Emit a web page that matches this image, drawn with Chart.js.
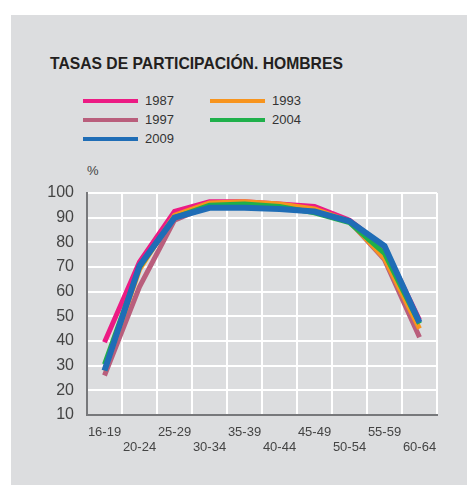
<!DOCTYPE html>
<html lang="es">
<head>
<meta charset="UTF-8">
<title>Tasas de participación. Hombres</title>
<style>
  body { margin: 0; background: #fff; font-family: "Liberation Sans", Arial, sans-serif; }
  .panel { position: absolute; left: 11px; top: 15px; width: 456px; height: 470px; background: #dcdddf; }
  .title { position: absolute; left: 50px; top: 55px; font-size: 15.7px; font-weight: bold; color: #231f20; white-space: nowrap; }
  .legend { position: absolute; font-size: 13px; color: #333; white-space: nowrap; }
  .legend span.sw { position: absolute; left: 0; top: 50%; width: 55px; height: 4px; margin-top: -2px; }
  .legend span.lb { position: absolute; left: 62px; top: -8px; }
  .unit { position: absolute; left: 87px; top: 163px; font-size: 13px; color: #444; }
  #chart { position: absolute; left: 0; top: 0; }
</style>
<script src="https://cdn.jsdelivr.net/npm/chart.js@4.4.6/dist/chart.umd.min.js"></script>
</head>
<body>
<div class="panel"></div>
<div class="title">TASAS DE PARTICIPACIÓN. HOMBRES</div>
<div id="legend"></div>
<div class="unit">%</div>
<canvas id="chart" width="467" height="485"></canvas>
<script>
// grupos de edad
var categories = ['16-19', '20-24', '25-29', '30-34', '35-39', '40-44', '45-49', '50-54', '55-59', '60-64'];
var years = ['1987', '1993', '1997', '2004', '2009'];
var colors = ['#ec1b84', '#f7941e', '#b95e7c', '#1fb04b', '#1f6db6'];

var v1987 = [39.5, 72, 92.5, 96.5, 96.5, 95.5, 94.5, 89, 78, 48.5];
var v1993 = [28, 69, 91, 96, 96.5, 95.5, 93.5, 88.5, 73.5, 45];
var v1997 = [26, 62, 89, 95, 96, 95, 93, 88.5, 73, 41.5];
var v2004 = [30.5, 70, 90, 95, 95.5, 94.5, 92, 88, 75.5, 47];
var v2009 = [28, 70.5, 90, 94, 94, 93.5, 92.5, 88.5, 78.5, 47.5];
var series = [v1987, v1993, v1997, v2004, v2009];

var yTicks = [10, 20, 30, 40, 50, 60, 70, 80, 90, 100];

// leyenda en dos columnas, como en el original
var legendPos = [[83, 101], [210, 101], [83, 120], [210, 120], [83, 139]];
var lg = document.getElementById('legend');
years.forEach(function (y, i) {
  var d = document.createElement('div');
  d.className = 'legend';
  d.style.left = legendPos[i][0] + 'px';
  d.style.top = legendPos[i][1] + 'px';
  d.innerHTML = '<span class="sw" style="background:' + colors[i] + '"></span><span class="lb">' + y + '</span>';
  lg.appendChild(d);
});

// el último año se dibuja encima
var drawOrder = [4, 2, 3, 1, 0];

var datasets = years.map(function (y, i) {
  return {
    label: y,
    data: series[i],
    order: drawOrder[i],
    borderColor: colors[i],
    backgroundColor: colors[i],
    borderWidth: i === 4 ? 6 : 5,
    pointRadius: 0,
    tension: 0,
    fill: false
  };
});

new Chart(document.getElementById('chart'), {
  type: 'line',
  data: { labels: categories, datasets: datasets },
  options: {
    responsive: false,
    animation: false,
    layout: { padding: { left: 0, top: 193, right: 30, bottom: 0 } },
    plugins: { legend: { display: false }, tooltip: { enabled: false } },
    scales: {
      x: {
        offset: true,
        grid: { offset: true, color: '#ffffff', lineWidth: 2, drawTicks: false },
        border: { color: '#77787b', width: 2 },
        ticks: {
          autoSkip: false,
          maxRotation: 0,
          padding: 10,
          color: '#444',
          font: { family: '"Liberation Sans", Arial, sans-serif', size: 13, lineHeight: 1.15 },
          callback: function (value, index) {
            var t = categories[index];
            return index % 2 === 0 ? [t] : ['', t];
          }
        },
        afterFit: function (scale) { scale.height = 70; }
      },
      y: {
        min: 10,
        max: 100,
        afterBuildTicks: function (scale) {
          scale.ticks = yTicks.map(function (v) { return { value: v }; });
        },
        grid: { color: '#ffffff', lineWidth: 2, drawTicks: false },
        border: { color: '#77787b', width: 2 },
        ticks: {
          padding: 13,
          color: '#444',
          font: { family: '"Liberation Sans", Arial, sans-serif', size: 16 }
        },
        afterFit: function (scale) { scale.width = 87; }
      }
    }
  }
});
</script>
</body>
</html>
